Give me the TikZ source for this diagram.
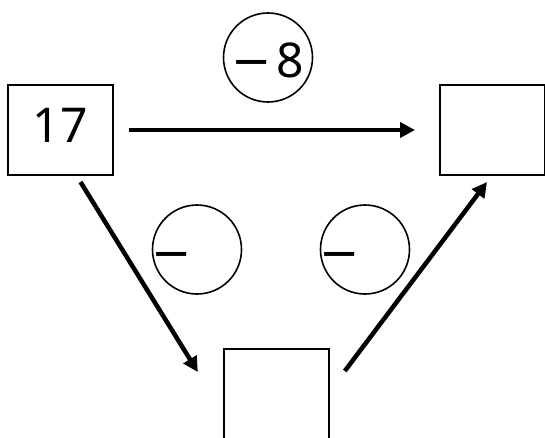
\documentclass[tikz,border=0pt]{standalone}
\usepackage{fontspec}
\setmainfont{Noto Sans}
\newfontfamily\symfont{DejaVu Sans}
\usepackage{tikz}
\usetikzlibrary{arrows.meta, positioning}
\newcommand{\minussign}{{\symfont −}}

\begin{document}
\begin{tikzpicture}[
    x=1pt, y=-1pt,
    block/.style={rectangle, draw, line width=2pt, minimum width=105pt, minimum height=90pt, inner sep=0pt, font=\fontsize{48}{56}\selectfont, text depth=9pt},
    op/.style={circle, draw, line width=1.6pt, minimum size=89pt, inner sep=0pt, font=\fontsize{48}{56}\selectfont, text height=40pt, text depth=0pt},
    arrow/.style={-{Triangle[length=15pt, width=15pt]}, line width=4.5pt}
]
\useasboundingbox (0,0) rectangle (545,437);

\node[block] (start) at (60,130) {17};
\node[block] (result) at (492.5,130) {};
\node[block] (bottom) at (276.3,394) {};

\node[op] (opTop) at (268,57.5) {\minussign\kern5pt 8};
\node[op] (opLeft) at (197,249.5) {\hbox to 0pt{\hss\minussign\hspace{50pt}\hss}};
\node[op] (opRight) at (365,249.5) {\hbox to 0pt{\hss\minussign\hspace{50pt}\hss}};

\draw[arrow] ([xshift=15pt]start.east) -- ([xshift=-24pt]result.west);
\draw[arrow] ([shift={(74,6)}]start.south west) -- ([shift={(-25,24)}]bottom.north west);
\draw[arrow] ([shift={(15,23)}]bottom.north east) -- ([shift={(48,6)}]result.south west);
\end{tikzpicture}
\end{document}
